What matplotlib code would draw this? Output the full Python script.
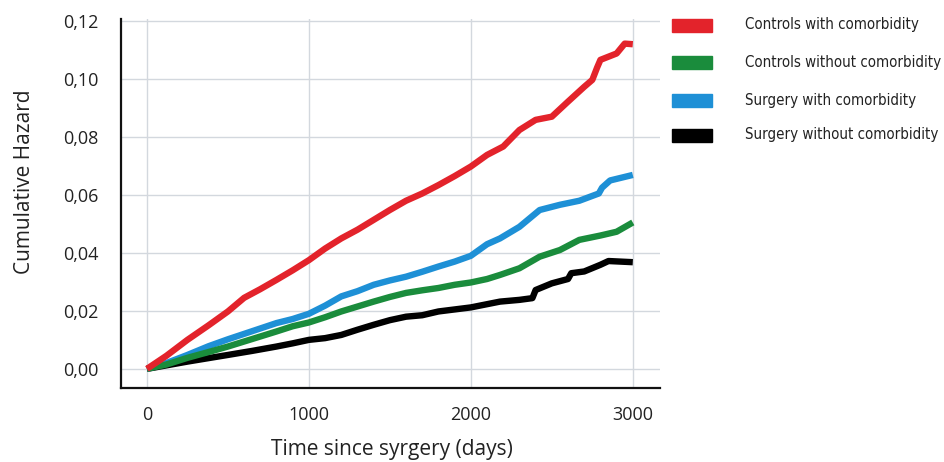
import matplotlib.pyplot as plt
from matplotlib.patches import Rectangle

# values (days, cumulative hazard)
days_red = [0, 120, 250, 380, 500, 600, 700, 800, 900, 1000, 1100, 1200, 1300, 1400, 1500,
            1600, 1700, 1800, 1900, 2000, 2100, 2200, 2300, 2400, 2500, 2600, 2700, 2750,
            2780, 2800, 2900, 2950, 3000]
haz_red = [0, 0.0045, 0.010, 0.015, 0.0198, 0.0245, 0.0275, 0.0307, 0.034, 0.0375, 0.0415,
           0.045, 0.048, 0.0514, 0.0548, 0.058, 0.0605, 0.0634, 0.0665, 0.0698, 0.0738,
           0.0767, 0.0824, 0.0859, 0.087, 0.0922, 0.0973, 0.0997, 0.104, 0.1066, 0.1088,
           0.1122, 0.112]

days_green = [0, 120, 250, 380, 500, 650, 800, 900, 1000, 1100, 1200, 1300, 1400, 1500,
              1600, 1700, 1800, 1900, 2000, 2100, 2180, 2300, 2425, 2550, 2670, 2800, 2900,
              3000]
haz_green = [0, 0.0015, 0.0038, 0.0058, 0.0077, 0.0103, 0.0129, 0.0147, 0.016, 0.0178,
             0.0198, 0.0215, 0.0232, 0.0248, 0.0262, 0.0271, 0.0279, 0.029, 0.0298, 0.031,
             0.0324, 0.0347, 0.0387, 0.041, 0.0445, 0.046, 0.0473, 0.0505]

days_blue = [0, 120, 250, 380, 500, 650, 800, 900, 1000, 1100, 1200, 1300, 1400, 1500,
             1600, 1700, 1800, 1900, 2000, 2100, 2180, 2300, 2425, 2550, 2670, 2790, 2810,
             2860, 3000]
haz_blue = [0, 0.002, 0.0048, 0.0078, 0.0102, 0.013, 0.0158, 0.0172, 0.019, 0.0218, 0.025,
            0.0268, 0.029, 0.0305, 0.0318, 0.0335, 0.0353, 0.037, 0.039, 0.043, 0.045, 0.049,
            0.0548, 0.0566, 0.058, 0.0605, 0.0625, 0.065, 0.0669]

days_black = [0, 120, 250, 380, 500, 650, 800, 900, 1000, 1100, 1200, 1300, 1400, 1500,
              1600, 1700, 1800, 1900, 2000, 2180, 2300, 2380, 2400, 2500, 2600, 2620, 2700,
              2800, 2850, 3000]
haz_black = [0, 0.0012, 0.0025, 0.0037, 0.0048, 0.0062, 0.0077, 0.0088, 0.010, 0.0106,
             0.0117, 0.0135, 0.0152, 0.0168, 0.018, 0.0185, 0.0198, 0.0205, 0.0212, 0.0232,
             0.0238, 0.0244, 0.0272, 0.0295, 0.031, 0.033, 0.0336, 0.0359, 0.0372, 0.0368]

labels = ['Controls with comorbidity', 'Controls without comorbidity',
          'Surgery with comorbidity', 'Surgery without comorbidity']
colors = ['#e3232b', '#1a8c3c', '#1e90d6', '#000000']

xticks = [0, 1000, 2000, 3000]
yticks = [0, 0.02, 0.04, 0.06, 0.08, 0.10, 0.12]
ytick_labels = ['0,00', '0,02', '0,04', '0,06', '0,08', '0,10', '0,12']

plt.rcParams['font.family'] = ['Open Sans', 'DejaVu Sans']

fig = plt.figure(figsize=(9.44, 4.62), dpi=100)
ax = fig.add_axes([0.1282, 0.1602, 0.5708, 0.7987])

series = [(days_red, haz_red), (days_green, haz_green),
          (days_blue, haz_blue), (days_black, haz_black)]
# draw black first so red sits on top, like the reference
for (d, h), c in reversed(list(zip(series, colors))):
    ax.plot(d, h, color=c, lw=4.6, solid_capstyle='butt', zorder=3)

ax.set_xlim(-160, 3167)
ax.set_ylim(-0.0066, 0.1207)
ax.set_xticks(xticks)
ax.set_xticklabels([str(t) for t in xticks])
ax.set_yticks(yticks)
ax.set_yticklabels(ytick_labels)
ax.tick_params(length=0, labelsize=13, colors='#222222')
ax.tick_params(axis='x', pad=13)
ax.tick_params(axis='y', pad=16)
ax.grid(True, color='#d3d8de', lw=1)
ax.set_axisbelow(True)
for s in ['top', 'right']:
    ax.spines[s].set_visible(False)
for s in ['left', 'bottom']:
    ax.spines[s].set_linewidth(1.6)
    ax.spines[s].set_color('#111111')

fig.text(25 / 944, 1 - 182 / 462, 'Cumulative Hazard', rotation=90, ha='center', va='center',
         fontsize=15, color='#222222')
fig.text(392 / 944, 1 - 450 / 462, 'Time since syrgery (days)', ha='center', va='center',
         fontsize=15, color='#222222')

# legend drawn at the right of the figure
ys = [25, 62, 100, 135]
for lab, c, y in zip(labels, colors, ys):
    fig.patches.append(Rectangle((672 / 944, 1 - (y + 6.5) / 462), 40 / 944, 13 / 462,
                                 transform=fig.transFigure, color=c))
    fig.text(745 / 944, 1 - y / 462, lab, ha='left', va='center', fontsize=10.8,
             family=['DejaVu Sans'], stretch='condensed', color='#222222')

fig.savefig('out.png', dpi=100)
